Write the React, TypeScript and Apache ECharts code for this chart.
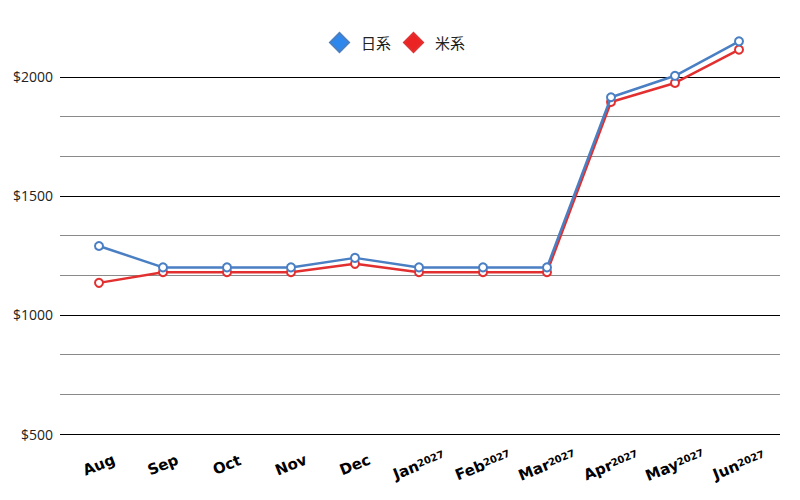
import React, { useEffect, useRef } from "react";
import * as echarts from "echarts";

const months = ["Aug", "Sep", "Oct", "Nov", "Dec", "Jan", "Feb", "Mar", "Apr", "May", "Jun"];
const years = ["", "", "", "", "", "2027", "2027", "2027", "2027", "2027", "2027"];
const seriesNames = ["日系", "米系"];
const japanValues = [1290, 1200, 1200, 1200, 1240, 1200, 1200, 1200, 1915, 2005, 2150];
const usValues = [1135, 1180, 1180, 1180, 1215, 1180, 1180, 1180, 1895, 1975, 2115];
const yMajorTicks = [500, 1000, 1500, 2000];

const Y_MIN = 500;
const Y_STEP = 500 / 3;
const Y_MAX = Y_MIN + Y_STEP * 10;

export default function App() {
  const ref = useRef<HTMLDivElement>(null);
  useEffect(() => {
    if (!ref.current) return;
    const chart = echarts.init(ref.current, undefined, { renderer: "svg" });
    const categories = months.map((m, i) => (years[i] ? `${m}|${years[i]}` : m));
    const gridTop = 37.33;
    const gridHeight = 396.67;
    chart.setOption({
      animation: false,
      backgroundColor: "#fff",
      legend: {
        left: 329,
        top: 32,
        padding: 0,
        itemWidth: 19,
        itemHeight: 19,
        itemGap: 12,
        icon: "diamond",
        textStyle: {
          fontFamily: "Noto Sans CJK JP",
          fontSize: 15,
          color: "#222",
          padding: [0, 0, 0, 7],
        },
        data: [
          { name: seriesNames[0], icon: "diamond", itemStyle: { color: "#2e87ec" } },
          { name: seriesNames[1], icon: "diamond", itemStyle: { color: "#ec2323" } },
        ],
      },
      grid: [
        { left: 60, right: 20, top: gridTop, height: gridHeight },
        { left: 67, right: 29, top: gridTop, height: gridHeight },
      ],
      xAxis: [
        { type: "category", gridIndex: 0, data: categories, show: false },
        {
          type: "category",
          gridIndex: 1,
          data: categories,
          boundaryGap: true,
          axisLine: { show: false },
          axisTick: { show: false },
          splitLine: { show: false },
          axisLabel: {
            interval: 0,
            rotate: 22,
            align: "center",
            verticalAlign: "middle",
            margin: 31,
            formatter: (v: string) => {
              const [m, y] = v.split("|");
              return y ? `{m|${m}}{y|${y}}` : `{m|${m}}`;
            },
            rich: {
              m: {
                fontFamily: "DejaVu Sans",
                fontWeight: "bold",
                fontSize: 15,
                color: "#000",
                lineHeight: 20,
              },
              y: {
                fontFamily: "DejaVu Sans",
                fontWeight: "bold",
                fontSize: 10,
                color: "#000",
                verticalAlign: "middle",
                lineHeight: 10,
                padding: [0, 0, 3, 0],
              },
            },
          },
        },
      ],
      yAxis: [
        {
          type: "value",
          gridIndex: 0,
          min: Y_MIN,
          max: Y_MAX,
          interval: Y_STEP,
          axisLine: { show: false },
          axisTick: { show: false },
          axisLabel: {
            fontFamily: "Open Sans",
            fontSize: 14,
            color: "#222",
            margin: 7,
            formatter: (v: number) => {
              const r = Math.round(v);
              return yMajorTicks.some((t) => Math.abs(t - v) < 1e-6) ? `$${r}` : "";
            },
          },
          splitLine: {
            show: true,
            showMaxLine: false,
            lineStyle: { color: ["#000", "#8a8a8a", "#8a8a8a"], width: 1 },
          },
        },
        {
          type: "value",
          gridIndex: 1,
          min: Y_MIN,
          max: Y_MAX,
          interval: Y_STEP,
          show: false,
          splitLine: { show: false },
        },
      ],
      series: [
        {
          name: seriesNames[0],
          type: "line",
          xAxisIndex: 1,
          yAxisIndex: 1,
          data: japanValues,
          z: 4,
          symbol: "emptyCircle",
          symbolSize: 8,
          lineStyle: { color: "#4a7fc3", width: 2.5 },
          itemStyle: { color: "#4a7fc3", borderColor: "#4a7fc3", borderWidth: 2 },
        },
        {
          name: seriesNames[1],
          type: "line",
          xAxisIndex: 1,
          yAxisIndex: 1,
          data: usValues,
          z: 3,
          symbol: "emptyCircle",
          symbolSize: 8,
          lineStyle: { color: "#e23030", width: 2.5 },
          itemStyle: { color: "#e23030", borderColor: "#e23030", borderWidth: 2 },
        },
      ],
    });
    return () => chart.dispose();
  }, []);
  return (
    <div
      ref={ref}
      style={{ position: "fixed", left: 0, top: 0, width: 800, height: 500 }}
    />
  );
}
